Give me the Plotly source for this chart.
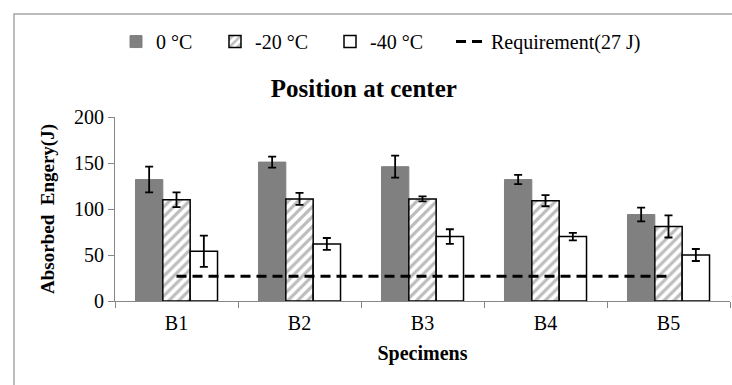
import plotly.graph_objects as go

specimens = ["B1", "B2", "B3", "B4", "B5"]
t0 = [132, 151, 146, 132, 94]
t0_err = [14, 6, 12, 5, 7.5]
t20 = [110, 111, 111, 109, 81]
t20_err = [8, 6.5, 2.7, 6, 12]
t40 = [54, 62, 70, 70, 50]
t40_err = [17, 6.5, 8, 4, 6.5]
requirement = [27, 27, 27, 27, 27]

FONT = "Liberation Serif"

fig = go.Figure()
err_style = dict(type="data", color="black", thickness=1.8, width=4)

fig.add_trace(go.Bar(
    x=specimens, y=t0, name="0 \u00b0C", legendwidth=54,
    marker=dict(color="#808080", line=dict(color="#808080", width=1)),
    error_y=dict(array=t0_err, **err_style),
))
fig.add_trace(go.Bar(
    x=specimens, y=t20, name="-20 \u00b0C", legendwidth=70,
    marker=dict(color="white", line=dict(color="black", width=1.5),
                pattern=dict(shape="/", fgcolor="#7a7a7a", bgcolor="white",
                             size=7, solidity=0.45)),
    error_y=dict(array=t20_err, **err_style),
))
fig.add_trace(go.Bar(
    x=specimens, y=t40, name="-40 \u00b0C", legendwidth=76,
    marker=dict(color="white", line=dict(color="black", width=1.5)),
    error_y=dict(array=t40_err, **err_style),
))
fig.add_trace(go.Scatter(
    x=specimens, y=requirement, name="Requirement(27 J)", mode="lines",
    line=dict(color="black", width=3, dash="10px,6px"),
))

fig.update_layout(
    width=732, height=385,
    margin=dict(l=115, r=2, t=117, b=84),
    paper_bgcolor="white", plot_bgcolor="white",
    font=dict(family=FONT, color="black", size=20),
    barmode="group", bargap=0.333, bargroupgap=0,
    title=dict(text="<b>Position at center</b>", x=0.497, xanchor="center",
               y=1 - 88 / 385, yanchor="middle", yref="container",
               font=dict(size=25, family=FONT, color="black")),
    legend=dict(orientation="h", x=(116 - 115) / 615, xanchor="left", y=1.41,
                yanchor="middle", font=dict(size=20, family=FONT),
                bgcolor="rgba(0,0,0,0)", traceorder="normal",
                itemwidth=30),
    showlegend=True,
)
fig.update_xaxes(
    showline=True, linecolor="#868686", linewidth=1.2,
    ticks="outside", tickson="boundaries", ticklen=6, tickcolor="#868686",
    tickfont=dict(size=20, family=FONT), ticklabelstandoff=4,
    title=dict(text="<b>Specimens</b>", font=dict(size=20, family=FONT), standoff=12),
    showgrid=False,
)
fig.update_yaxes(
    range=[0, 200], dtick=50,
    showline=True, linecolor="#868686", linewidth=1.2,
    ticks="outside", ticklen=6, tickcolor="#868686",
    tickfont=dict(size=20, family=FONT),
    title=dict(text="<b>Absorbed  Engery(J)</b>", font=dict(size=19, family=FONT), standoff=14),
    showgrid=False, zeroline=False,
)
fig.add_shape(type="rect", xref="paper", yref="paper",
              x0=(14 - 115) / 615, x1=1.2, y0=-0.6, y1=(301 - 14) / 184,
              line=dict(color="#a6a6a6", width=1.5), fillcolor="rgba(0,0,0,0)",
              layer="below")

fig.write_html("out.html")
